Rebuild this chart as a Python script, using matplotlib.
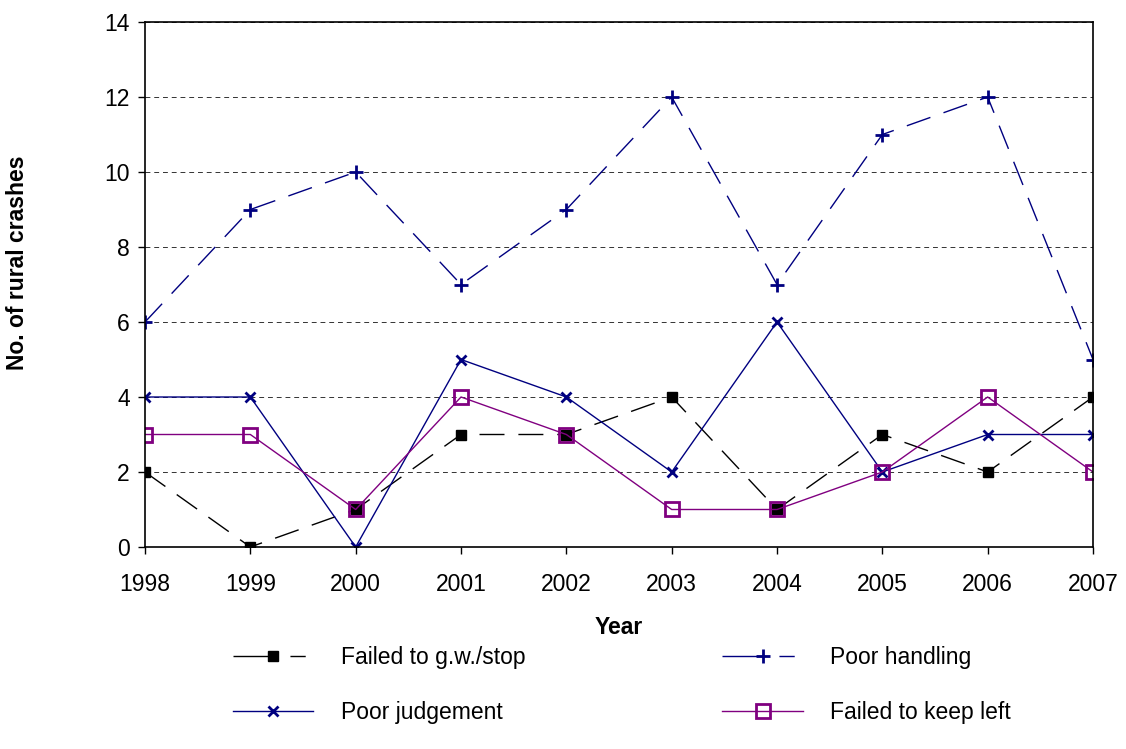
import matplotlib
matplotlib.use("Agg")
import matplotlib.pyplot as plt
from matplotlib.lines import Line2D

plt.rcParams['font.family'] = ['Liberation Sans', 'DejaVu Sans']

years = [1998, 1999, 2000, 2001, 2002, 2003, 2004, 2005, 2006, 2007]
failed_gw_stop = [2, 0, 1, 3, 3, 4, 1, 3, 2, 4]
poor_handling = [6, 9, 10, 7, 9, 12, 7, 11, 12, 5]
poor_judgement = [4, 4, 0, 5, 4, 2, 6, 2, 3, 3]
failed_keep_left = [3, 3, 1, 4, 3, 1, 1, 2, 4, 2]

fig = plt.figure(figsize=(11.26, 7.49), dpi=100)
ax = fig.add_axes([0.1288, 0.2697, 0.8419, 0.7009])

navy = '#000080'
purple = '#800080'
fs = 16.5

ax.plot(years, failed_gw_stop, color='black', lw=1, dashes=(18, 10),
        marker='s', ms=7, mfc='black', mec='black')
ax.plot(years, poor_handling, color=navy, lw=1, dashes=(18, 10),
        marker='+', ms=10, mew=2)
ax.plot(years, poor_judgement, color=navy, lw=1,
        marker='x', ms=7, mew=2)
ax.plot(years, failed_keep_left, color=purple, lw=1,
        marker='s', ms=10, mfc='none', mec=purple, mew=2)

ax.set_xlim(1998, 2007)
ax.set_ylim(0, 14)
ax.set_xticks(years)
ax.set_yticks(range(0, 15, 2))
ax.yaxis.grid(True, color='black', ls=(0, (5, 4)), lw=0.7, alpha=0.8)
ax.set_axisbelow(True)
ax.tick_params(labelsize=fs, direction='out', length=5, width=1)
ax.tick_params(axis='x', pad=14)
ax.tick_params(axis='y', pad=6)
for s in ax.spines.values():
    s.set_linewidth(1.2)

ax.set_xlabel('Year', fontsize=fs, fontweight='bold', labelpad=14)
ax.set_ylabel('No. of rural crashes', fontsize=fs, fontweight='bold')
ax.yaxis.set_label_coords(-0.1224, 0.541)

# legend proxies: dashed ones show line - marker - gap - dash
leg_dash = (31, 10, 11, 30)
h1 = Line2D([], [], color='black', lw=1, dashes=leg_dash, marker='s', ms=7)
h2 = Line2D([], [], color=navy, lw=1, dashes=leg_dash, marker='+', ms=10, mew=2)
h3 = Line2D([], [], color=navy, lw=1, marker='x', ms=7, mew=2)
h4 = Line2D([], [], color=purple, lw=1, marker='s', ms=10, mfc='none', mec=purple, mew=2)

# row-wise legend order
fig.legend([h1, h3, h2, h4],
           ['Failed to g.w./stop', 'Poor judgement', 'Poor handling', 'Failed to keep left'],
           loc='upper left', bbox_to_anchor=(0.207, 0.138), ncol=2, frameon=False,
           fontsize=fs, handlelength=3.5, columnspacing=8.6, labelspacing=1.4,
           handletextpad=1.2, borderpad=0, borderaxespad=0)

fig.savefig('out.png', dpi=100)
